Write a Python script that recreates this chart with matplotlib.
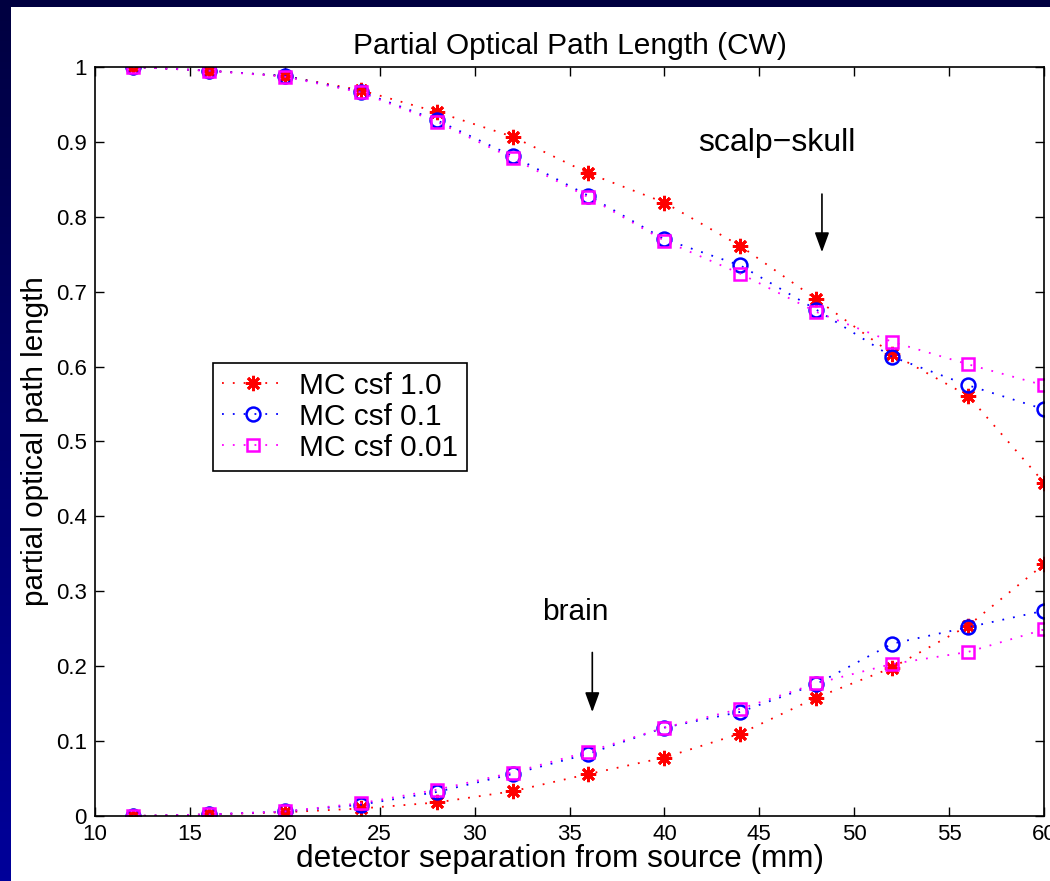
import matplotlib
import numpy as np

matplotlib.use("Agg")
import matplotlib.pyplot as plt
from matplotlib.colors import LinearSegmentedColormap
from matplotlib.patches import Rectangle

plt.rcParams["font.family"] = ["Liberation Sans", "DejaVu Sans"]

# detector separation (mm)
separation = [12, 16, 20, 24, 28, 32, 36, 40, 44, 48, 52, 56, 60]

# scalp-skull partial optical path length
skull_csf_1 = [1.0, 0.995, 0.988, 0.969, 0.940, 0.907, 0.858, 0.819, 0.761, 0.690, 0.617, 0.561, 0.445]
skull_csf_01 = [1.0, 0.995, 0.988, 0.967, 0.929, 0.881, 0.828, 0.770, 0.735, 0.676, 0.613, 0.575, 0.543]
skull_csf_001 = [1.0, 0.995, 0.987, 0.966, 0.927, 0.878, 0.826, 0.768, 0.724, 0.673, 0.633, 0.603, 0.575]

# brain partial optical path length
brain_csf_1 = [0.0, 0.002, 0.005, 0.010, 0.018, 0.033, 0.056, 0.078, 0.110, 0.158, 0.198, 0.254, 0.336]
brain_csf_01 = [0.0, 0.002, 0.006, 0.015, 0.032, 0.056, 0.083, 0.118, 0.139, 0.176, 0.230, 0.252, 0.274]
brain_csf_001 = [0.0, 0.002, 0.006, 0.017, 0.035, 0.058, 0.086, 0.118, 0.143, 0.177, 0.203, 0.219, 0.249]

labels = ["MC csf 1.0", "MC csf 0.1", "MC csf 0.01"]

fig = plt.figure(figsize=(10.5, 8.81), dpi=100)

# dark blue slide background with white plotting panel
bg = fig.add_axes([0, 0, 1, 1], zorder=-10)
grad = np.linspace(0, 1, 256).reshape(-1, 1)
cmap = LinearSegmentedColormap.from_list("slide", ["#000040", "#00009a"])
bg.imshow(grad, aspect="auto", cmap=cmap, extent=[0, 1, 0, 1], origin="upper")
bg.add_patch(Rectangle((11 / 1050, 0), 1, (881 - 7) / 881, facecolor="white", edgecolor="none"))
bg.set_xlim(0, 1)
bg.set_ylim(0, 1)
bg.axis("off")

ax = fig.add_axes([0.0905, 0.0738, 0.9038, 0.8502])

dots = (0, (1, 5))
star = (8, 2, 0)
styles = [
    dict(color="red", marker=star, ms=11, mew=2),
    dict(color="blue", marker="o", ms=10, mew=1.8, mfc="none"),
    dict(color="magenta", marker="s", ms=8, mew=1.8, mfc="none"),
]
for ys, st, lab in zip([skull_csf_1, skull_csf_01, skull_csf_001], styles, labels):
    ax.plot(separation, ys, ls=dots, lw=1.3, label=lab, **st)
for ys, st in zip([brain_csf_1, brain_csf_01, brain_csf_001], styles):
    ax.plot(separation, ys, ls=dots, lw=1.3, **st)

ax.set_xlim(10, 60)
ax.set_ylim(0, 1)
ax.set_xticks(range(10, 61, 5))
ax.set_yticks(np.arange(0, 1.01, 0.1))
ax.set_yticklabels(["0", "0.1", "0.2", "0.3", "0.4", "0.5", "0.6", "0.7", "0.8", "0.9", "1"])
ax.tick_params(direction="in", top=True, right=True, length=6.5, width=1, labelsize=16)
ax.tick_params(axis="x", pad=6)
ax.tick_params(axis="y", pad=6)
for spine in ax.spines.values():
    spine.set_linewidth(1.2)

ax.set_title("Partial Optical Path Length (CW)", fontsize=21.5, pad=9)
ax.set_xlabel("detector separation from source (mm)", fontsize=22.7, labelpad=0)
ax.xaxis.set_label_coords(0.49, -0.037)
ax.set_ylabel("partial optical path length", fontsize=21.3, labelpad=5)

arrow = dict(arrowstyle="-|>,head_length=0.6,head_width=0.22", color="black", lw=1.2, mutation_scale=20)
ax.annotate("", xy=(48.3, 0.749), xytext=(48.3, 0.834), arrowprops=arrow)
ax.text(45.9, 0.898, "scalp\u2212skull", fontsize=23, ha="center", va="center")
ax.annotate("", xy=(36.2, 0.135), xytext=(36.2, 0.222), arrowprops=arrow)
ax.text(35.3, 0.272, "brain", fontsize=21.5, ha="center", va="center")

leg = ax.legend(loc="upper left", bbox_to_anchor=(0.124, 0.605), borderaxespad=0, fontsize=21.5,
                fancybox=False, edgecolor="black", framealpha=1, handlelength=2.1,
                handletextpad=0.5, borderpad=0.3, labelspacing=0.1)
leg.get_frame().set_linewidth(1.2)

fig.savefig("out.png", dpi=100)
